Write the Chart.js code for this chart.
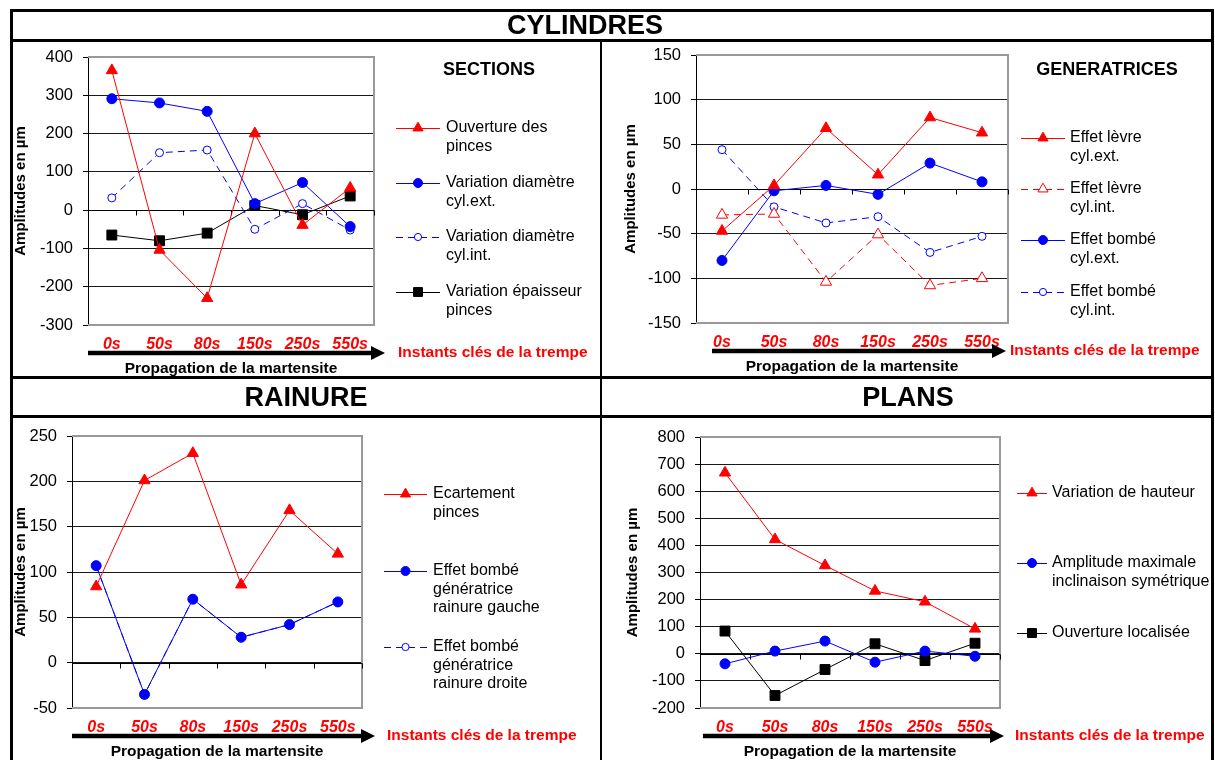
<!DOCTYPE html>
<html>
<head>
<meta charset="utf-8">
<script src="https://cdn.jsdelivr.net/npm/chart.js@4.4.1/dist/chart.umd.min.js"></script>
<style>
  body { margin: 0; background: #fff; font-family: "Liberation Sans", Arial, sans-serif; }
  #page { position: relative; width: 1215px; height: 760px; overflow: hidden; }
  canvas { position: absolute; left: 0; top: 0; }
  .trait { position: absolute; background: #000; z-index: 2; }
  .titre { position: absolute; z-index: 2; font-weight: bold; font-size: 27px; line-height: 1;
           transform: translate(-50%, -50%); white-space: nowrap; color: #000; }
</style>
</head>
<body>
<div id="page">
  <canvas id="sections" width="1215" height="760"></canvas>
  <canvas id="generatrices" width="1215" height="760"></canvas>
  <canvas id="rainure" width="1215" height="760"></canvas>
  <canvas id="plans" width="1215" height="760"></canvas>

  <div class="trait" style="left:10px;top:9px;width:1204px;height:3px"></div>
  <div class="trait" style="left:10px;top:9px;width:3px;height:760px"></div>
  <div class="trait" style="left:1211px;top:9px;width:3px;height:760px"></div>
  <div class="trait" style="left:10px;top:39px;width:1204px;height:3px"></div>
  <div class="trait" style="left:600px;top:39px;width:2px;height:730px"></div>
  <div class="trait" style="left:10px;top:376px;width:1204px;height:3px"></div>
  <div class="trait" style="left:10px;top:415px;width:1204px;height:3px"></div>

  <div class="titre" style="left:585px;top:25px">CYLINDRES</div>
  <div class="titre" style="left:306px;top:397px">RAINURE</div>
  <div class="titre" style="left:908px;top:397px">PLANS</div>
</div>
<script>
const instants = ['0s', '50s', '80s', '150s', '250s', '550s'];

// CYLINDRES - SECTIONS
const ouverturePinces = [365, -104, -230, 200, -39, 58];
const diametreCylExt = [291, 280, 258, 17, 72, -43];
const diametreCylInt = [32, 150, 157, -50, 17, -52];
const epaisseurPinces = [-65, -80, -60, 12, -12, 37];
const axeSections = [-300, 400, 100]; // min, max, pas

// CYLINDRES - GENERATRICES
const levreCylExt = [-47, 4, 68, 16, 80, 63];
const levreCylInt = [-29, -28, -104, -51, -108, -100];
const bombeCylExt = [-80, -2, 4, -6, 29, 8];
const bombeCylInt = [44, -20, -38, -31, -71, -53];
const axeGeneratrices = [-150, 150, 50];

// RAINURE
const ecartementPinces = [84, 201, 231, 86, 168, 120];
const bombeRainureGauche = [107, -35, 70, 28, 42, 67];
const bombeRainureDroite = [107, -35, 70, 28, 42, 67];
const axeRainure = [-50, 250, 50];

// PLANS
const variationHauteur = [668, 422, 326, 232, 192, 92];
const inclinaisonSym = [-37, 10, 47, -31, 10, -9];
const ouvertureLocalisee = [84, -154, -58, 37, -25, 39];
const axePlans = [-200, 800, 100];

const ROUGE = '#ff0000', BLEU = '#0000ff', NOIR = '#000000';
const POLICE = '"Liberation Sans", Arial, sans-serif';

const marques = {
    triPlein: { couleur: ROUGE, forme: 'triangle', r: 6.5, plein: true, tirets: [] },
    triVide: { couleur: ROUGE, forme: 'triangle', r: 6.5, plein: false, tirets: [7, 5] },
    rondPlein: { couleur: BLEU, forme: 'circle', r: 5, plein: true, tirets: [] },
    rondVide: { couleur: BLEU, forme: 'circle', r: 4, plein: false, tirets: [7, 5] },
    carre: { couleur: NOIR, forme: 'rect', r: 7, plein: true, tirets: [] }
};

function serie(label, data, m) {
    return {
        label: label,
        data: data,
        borderColor: m.couleur,
        borderWidth: 1,
        borderDash: m.tirets,
        pointStyle: m.forme,
        pointRadius: m.r,
        pointHoverRadius: m.r,
        pointBorderColor: m.couleur,
        pointBackgroundColor: m.plein ? m.couleur : '#ffffff',
        pointBorderWidth: 1,
        tension: 0,
        fill: false
    };
}

// cadre gris, axe du zéro, flèche, légende
const decor = {
    id: 'decor',
    beforeDatasetsDraw(chart) {
        const { ctx, chartArea: a, scales: { y } } = chart;
        ctx.save();
        ctx.strokeStyle = '#999';
        ctx.lineWidth = 2;
        ctx.beginPath();
        ctx.moveTo(a.left, a.top);
        ctx.lineTo(a.right, a.top);
        ctx.lineTo(a.right, a.bottom);
        ctx.lineTo(a.left, a.bottom);
        ctx.stroke();

        const y0 = Math.round(y.getPixelForValue(0)) + 0.5;
        const n = chart.data.labels.length;
        const pas = (a.right - a.left) / n;
        ctx.strokeStyle = NOIR;
        ctx.lineWidth = 1;
        ctx.beginPath();
        ctx.moveTo(a.left, y0);
        ctx.lineTo(a.right, y0);
        for (let i = 1; i <= n; i++) {
            const xt = Math.round(a.left + i * pas) + 0.5;
            ctx.moveTo(xt, y0);
            ctx.lineTo(xt, y0 + 5);
        }
        ctx.stroke();
        ctx.restore();
    },
    afterDraw(chart, args, o) {
        const { ctx, chartArea: a } = chart;
        ctx.save();

        // flèche
        const yf = a.bottom + 28;
        const x0 = a.left + o.flecheDebut;
        const xp = a.right + o.flecheFin;
        ctx.fillStyle = NOIR;
        ctx.fillRect(x0, yf - 2.25, xp - 12 - x0, 4.5);
        ctx.beginPath();
        ctx.moveTo(xp, yf);
        ctx.lineTo(xp - 14, yf - 7);
        ctx.lineTo(xp - 14, yf + 7);
        ctx.closePath();
        ctx.fill();

        ctx.textBaseline = 'middle';
        ctx.font = 'bold 15.5px ' + POLICE;
        ctx.fillStyle = ROUGE;
        ctx.textAlign = 'left';
        ctx.fillText('Instants clés de la trempe', o.instantsX, yf);
        ctx.fillStyle = NOIR;
        ctx.textAlign = 'center';
        ctx.fillText('Propagation de la martensite', (a.left + a.right) / 2, a.bottom + 44);

        if (o.sousTitre) {
            ctx.font = 'bold 18px ' + POLICE;
            ctx.fillText(o.sousTitre, o.sousTitreX, 70);
        }

        // légende
        const L = o.legende;
        chart.data.datasets.forEach((ds, i) => {
            const yl = L.y[i];
            ctx.strokeStyle = ds.borderColor;
            ctx.lineWidth = 1;
            ctx.setLineDash(ds.borderDash);
            ctx.beginPath();
            ctx.moveTo(L.traitX[0], yl + 0.5);
            ctx.lineTo(L.traitX[1], yl + 0.5);
            ctx.stroke();
            ctx.setLineDash([]);
            ctx.fillStyle = ds.pointBackgroundColor;
            ctx.strokeStyle = ds.pointBorderColor;
            Chart.helpers.drawPoint(ctx, {
                pointStyle: ds.pointStyle,
                radius: ds.pointRadius * 0.9,
                borderWidth: 1,
                rotation: 0
            }, (L.traitX[0] + L.traitX[1]) / 2, yl);

            ctx.fillStyle = NOIR;
            ctx.font = '16px ' + POLICE;
            ctx.textAlign = 'left';
            ds.label.split('\n').forEach((t, k) => {
                ctx.fillText(t, L.texteX, yl + k * L.interligne);
            });
        });
        ctx.restore();
    }
};

// p.cadre = [gauche, haut, droite, bas] de la zone de tracé
function graphique(id, series, axe, p) {
    const [g, h, d, b] = p.cadre;
    new Chart(document.getElementById(id), {
        type: 'line',
        data: { labels: instants, datasets: series },
        plugins: [decor],
        options: {
            responsive: false,
            animation: false,
            events: [],
            layout: {
                padding: { left: p.titreG, top: h, right: 1215 - d, bottom: 760 - p.basPanneau }
            },
            plugins: {
                legend: { display: false },
                tooltip: { enabled: false },
                decor: p.decor
            },
            scales: {
                x: {
                    offset: true,
                    grid: { display: false, drawTicks: false },
                    border: { display: false },
                    ticks: {
                        color: ROUGE,
                        font: { family: POLICE, size: 16, weight: 'bold', style: 'italic' },
                        padding: 10,
                        maxRotation: 0,
                        autoSkip: false
                    },
                    afterFit: (s) => { s.height = p.basPanneau - b; }
                },
                y: {
                    min: axe[0],
                    max: axe[1],
                    ticks: {
                        stepSize: axe[2],
                        color: NOIR,
                        font: { family: POLICE, size: 16.5 },
                        padding: 10
                    },
                    grid: { color: '#1a1a1a', lineWidth: 1, tickLength: 5, tickColor: NOIR },
                    border: { color: NOIR, width: 1 },
                    title: {
                        display: true,
                        text: 'Amplitudes en µm',
                        color: NOIR,
                        font: { family: POLICE, size: 15, weight: 'bold' },
                        padding: 0
                    },
                    afterFit: (s) => { s.width = g - p.titreG; }
                }
            }
        }
    });
}

graphique('sections', [
    serie('Ouverture des\npinces', ouverturePinces, marques.triPlein),
    serie('Variation diamètre\ncyl.ext.', diametreCylExt, marques.rondPlein),
    serie('Variation diamètre\ncyl.int.', diametreCylInt, marques.rondVide),
    serie('Variation épaisseur\npinces', epaisseurPinces, marques.carre)
], axeSections, {
    cadre: [88, 57, 374, 325], basPanneau: 376, titreG: 12,
    decor: {
        flecheDebut: 0, flecheFin: 11, instantsX: 398,
        sousTitre: 'SECTIONS', sousTitreX: 489,
        legende: { traitX: [396, 440], texteX: 446, y: [128, 183, 237, 292], interligne: 19 }
    }
});

graphique('generatrices', [
    serie('Effet lèvre\ncyl.ext.', levreCylExt, marques.triPlein),
    serie('Effet lèvre\ncyl.int.', levreCylInt, marques.triVide),
    serie('Effet bombé\ncyl.ext.', bombeCylExt, marques.rondPlein),
    serie('Effet bombé\ncyl.int.', bombeCylInt, marques.rondVide)
], axeGeneratrices, {
    cadre: [696, 55, 1008, 323], basPanneau: 376, titreG: 622,
    decor: {
        flecheDebut: 16, flecheFin: -2, instantsX: 1010,
        sousTitre: 'GENERATRICES', sousTitreX: 1107,
        legende: { traitX: [1021, 1065], texteX: 1070, y: [138, 189, 240, 292], interligne: 19 }
    }
});

graphique('rainure', [
    serie('Ecartement\npinces', ecartementPinces, marques.triPlein),
    serie('Effet bombé\ngénératrice\nrainure gauche', bombeRainureGauche, marques.rondPlein),
    serie('Effet bombé\ngénératrice\nrainure droite', bombeRainureDroite, marques.rondVide)
], axeRainure, {
    cadre: [72, 436, 362, 708], basPanneau: 760, titreG: 12,
    decor: {
        flecheDebut: 0, flecheFin: 13, instantsX: 387,
        legende: { traitX: [384, 427], texteX: 433, y: [494, 571, 647], interligne: 18.5 }
    }
});

graphique('plans', [
    serie('Variation de hauteur', variationHauteur, marques.triPlein),
    serie('Amplitude maximale\ninclinaison symétrique', inclinaisonSym, marques.rondPlein),
    serie('Ouverture localisée', ouvertureLocalisee, marques.carre)
], axePlans, {
    cadre: [700, 437, 1000, 708], basPanneau: 760, titreG: 624,
    decor: {
        flecheDebut: 3, flecheFin: 4, instantsX: 1015,
        legende: { traitX: [1017, 1047], texteX: 1052, y: [493, 563, 633], interligne: 19 }
    }
});
</script>
</body>
</html>
